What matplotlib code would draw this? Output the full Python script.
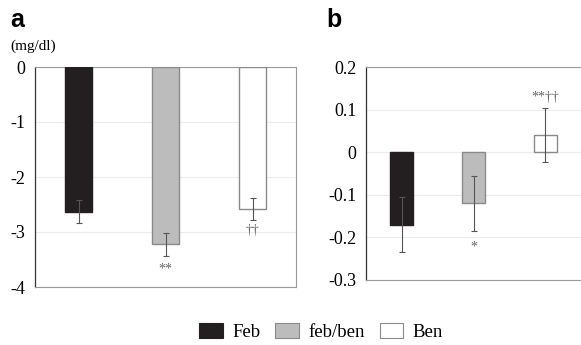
import matplotlib
matplotlib.use("Agg")
import matplotlib.pyplot as plt
from matplotlib.patches import Patch

groups = ["Feb", "feb/ben", "Ben"]
colors = ["#231f20", "#bcbcbc", "#ffffff"]
edges = ["#231f20", "#8a8a8a", "#8a8a8a"]

a_vals = [-2.63, -3.22, -2.59]
a_err = [0.21, 0.21, 0.20]
a_marks = ["", "**", "††"]
a_mark_y = [None, -3.68, -2.97]

b_vals = [-0.17, -0.12, 0.04]
b_err = [0.064, 0.064, 0.064]
b_marks = ["", "*", "**††"]
b_mark_y = [None, -0.222, 0.129]

serif = "Liberation Serif"
W, H = 581, 345
fig = plt.figure(figsize=(W / 100, H / 100), dpi=100)


def px(l, t, r, b):
    return [l / W, 1 - b / H, (r - l) / W, (b - t) / H]


def panel(ax, vals, errs, marks, mark_y, ylim, ticks, ticklabels, fs, markfs):
    x = range(len(vals))
    for i in x:
        ax.bar(i, vals[i], width=0.32, color=colors[i], edgecolor=edges[i],
               linewidth=1.0, zorder=3)
        ax.errorbar(i, vals[i], yerr=errs[i], color="#555555", elinewidth=0.8,
                    capsize=2, capthick=0.8, zorder=4)
        if marks[i]:
            ax.text(i, mark_y[i], marks[i], ha="center", va="center",
                    fontsize=markfs, color="#666666", family=serif, zorder=5)
    ax.set_xlim(-0.5, 2.5)
    ax.set_ylim(*ylim)
    ax.set_yticks(ticks)
    ax.set_yticklabels(ticklabels, family=serif, fontsize=fs)
    ax.set_xticks([])
    ax.tick_params(axis="y", length=0, pad=7)
    ax.yaxis.grid(True, color="#ececec", linewidth=0.8, zorder=0)
    ax.set_axisbelow(True)
    for s in ["top", "right", "bottom"]:
        ax.spines[s].set_color("#9a9a9a")
        ax.spines[s].set_linewidth(0.8)
    ax.spines["left"].set_color("#333333")
    ax.spines["left"].set_linewidth(0.9)


axa = fig.add_axes(px(35, 67, 296, 287))
panel(axa, a_vals, a_err, a_marks, a_mark_y, (-4, 0), [0, -1, -2, -3, -4],
      ["0", "-1", "-2", "-3", "-4"], 13, 10)

axb = fig.add_axes(px(366, 67, 581, 280))
panel(axb, b_vals, b_err, b_marks, b_mark_y, (-0.3, 0.2),
      [0.2, 0.1, 0, -0.1, -0.2, -0.3],
      ["0.2", "0.1", "0", "-0.1", "-0.2", "-0.3"], 13, 10)
axb.spines["right"].set_visible(False)

fig.text(10 / W, 1 - 27 / H, "a", family="Liberation Sans", weight="bold",
         fontsize=18, va="baseline", ha="left")
fig.text(326 / W, 1 - 27 / H, "b", family="Liberation Sans", weight="bold",
         fontsize=18, va="baseline", ha="left")
fig.text(10 / W, 1 - 50 / H, "(mg/dl)", family=serif, fontsize=11,
         va="baseline", ha="left")

handles = [Patch(facecolor=colors[i], edgecolor=edges[i], linewidth=0.8)
           for i in range(3)]
fig.legend(handles, groups, loc="center", bbox_to_anchor=(321 / W, 1 - 332 / H),
           ncol=3, frameon=False, prop={"family": serif, "size": 13.5},
           handlelength=1.25, handleheight=0.9, handletextpad=0.5,
           columnspacing=0.8, borderpad=0)

fig.savefig("out.png", dpi=100)
